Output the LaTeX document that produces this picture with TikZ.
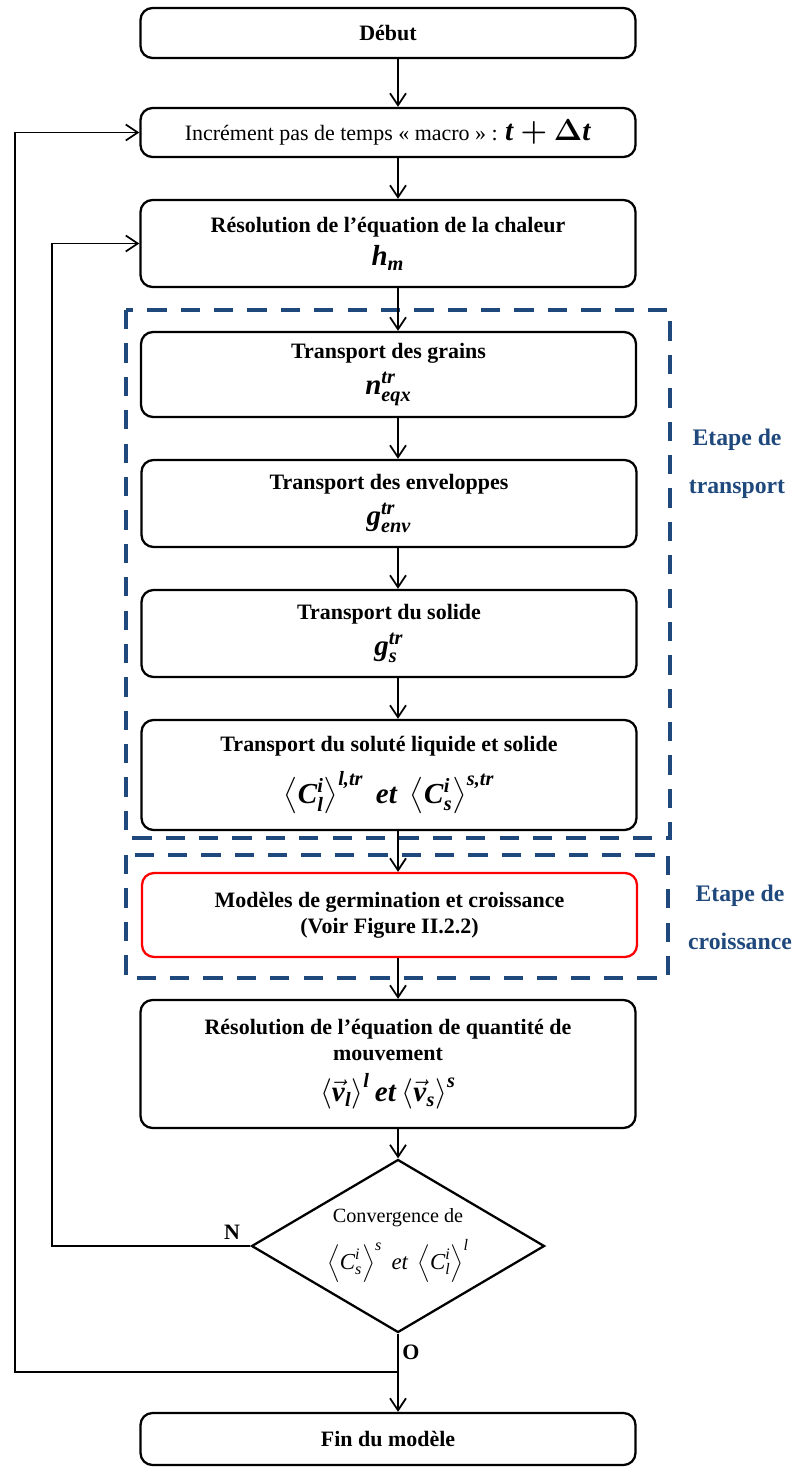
\documentclass[tikz,border=0pt]{standalone}
\usepackage{amsmath}
\usepackage{fontspec}
\setmainfont{Liberation Serif}
\usetikzlibrary{arrows.meta,shapes.geometric}

\definecolor{bleuetape}{RGB}{31,73,125}
\newcommand{\mgi}[1]{\textbf{\textit{#1}}}
\newcommand{\mii}[1]{\textit{#1}}
\newcommand{\grand}{\fontsize{16.5}{18}\selectfont}

\tikzset{
    boite/.style={draw, rounded corners=0.24cm, line width=1.3pt, minimum width=9.9cm,
        align=center, font=\bfseries\fontsize{12.5}{15}\selectfont},
    fleche/.style={-{Straight Barb[length=2.4mm,width=3.2mm]}, line width=1pt},
    etape/.style={draw=bleuetape, line width=2.2pt, dash pattern=on 11pt off 8pt},
    titreetape/.style={text=bleuetape, align=center, font=\bfseries\fontsize{13.5}{27}\selectfont},
    conv/.style={diamond, draw, line width=1.3pt, aspect=1.7, minimum width=5.86cm,
        minimum height=3.46cm, inner sep=0pt, align=center, font=\fontsize{11.5}{13}\selectfont}
}

\begin{document}
\begin{tikzpicture}

\useasboundingbox (0,0) rectangle (15.9,-29.34);

% axe vertical des fleches
\coordinate (axe) at (7.96,0);
\coordinate (bordA) at (0.3,0);
\coordinate (bordB) at (1.04,0);

% Boites du schema
\node[boite, minimum height=1.0cm] (debut) at (7.76,-0.66) {Début};
\node[boite, minimum height=0.98cm, font=\fontsize{12.5}{15}\selectfont] (incr) at (7.76,-2.65)
    {Incrément pas de temps « macro » : {\grand$\mgi{t}\boldsymbol{+}\boldsymbol{\Delta}\mgi{t}$}};
\node[boite, minimum height=1.74cm] (chaleur) at (7.76,-4.87)
    {Résolution de l’équation de la chaleur\\[4pt] {\grand$\mgi{h}_{\mgi{m}}$}};

% Etape de transport
\draw[etape] (2.52,-6.2) rectangle (13.4,-16.76);
\node[titreetape] (ttransport) at (14.74,-9.28) {Etape de\\transport};

\node[boite, minimum height=1.7cm] (grains) at (7.77,-7.49)
    {Transport des grains\\[4pt] {\grand$\mgi{n}^{\mgi{tr}}_{\mgi{eqx}}$}};
\node[boite, minimum height=1.74cm] (env) at (7.78,-10.07)
    {Transport des enveloppes\\[4pt] {\grand$\mgi{g}^{\mgi{tr}}_{\mgi{env}}$}};
\node[boite, minimum height=1.74cm] (solide) at (7.78,-12.67)
    {Transport du solide\\[4pt] {\grand$\mgi{g}^{\mgi{tr}}_{\mgi{s}}$}};
\node[boite, minimum height=2.2cm] (solute) at (7.78,-15.5)
    {Transport du soluté liquide et solide\\[8pt] {\grand$\left\langle \mgi{C}^{\mii{i}}_{\mgi{l}} \right\rangle^{\mgi{l,tr}}\ \mgi{et}\ \left\langle \mgi{C}^{\mii{i}}_{\mgi{s}} \right\rangle^{\mgi{s,tr}}$}};

% Etape de croissance
\draw[etape] (2.52,-17.1) rectangle (13.36,-19.56);
\node[titreetape] (tcroissance) at (14.8,-18.35) {Etape de\\croissance};

\node[boite, draw=red, minimum height=1.68cm] (modeles) at (7.79,-18.3)
    {Modèles de germination et croissance\\(Voir Figure II.2.2)};

\node[boite, minimum height=2.56cm] (quantite) at (7.76,-21.28)
    {Résolution de l’équation de quantité de\\mouvement\\[6pt] {\grand$\left\langle \vec{\mgi{v}}_{\mgi{l}} \right\rangle^{\mgi{l}} \mgi{et} \left\langle \vec{\mgi{v}}_{\mgi{s}} \right\rangle^{\mgi{s}}$}};

\node[conv] (test) at (7.96,-24.92)
    {Convergence de\\[6pt] {\fontsize{13}{15}\selectfont$\left\langle \mii{C}^{\mii{i}}_{\mii{s}} \right\rangle^{\mii{s}}\ \mii{et}\ \left\langle \mii{C}^{\mii{i}}_{\mii{l}} \right\rangle^{\mii{l}}$}};

\node[boite, minimum height=1.04cm] (fin) at (7.76,-28.78) {Fin du modèle};

% Fleches principales
\draw[fleche] (debut.south -| axe) -- (incr.north -| axe);
\draw[fleche] (incr.south -| axe) -- (chaleur.north -| axe);
\draw[fleche] (chaleur.south -| axe) -- (grains.north -| axe);
\draw[fleche] (grains.south -| axe) -- (env.north -| axe);
\draw[fleche] (env.south -| axe) -- (solide.north -| axe);
\draw[fleche] (solide.south -| axe) -- (solute.north -| axe);
\draw[fleche] (solute.south -| axe) -- (modeles.north -| axe);
\draw[fleche] (modeles.south -| axe) -- (quantite.north -| axe);
\draw[fleche] (quantite.south -| axe) -- (test.north);
\draw[fleche] (test.south) -- (fin.north -| axe);

% Boucles de retour
\coordinate (oui) at (7.96,-27.44);
\draw[fleche] (test.west) -- (test.west -| bordB) |- (chaleur.west);
\draw[fleche] (oui) -- (oui -| bordA) |- (incr.west);

\node[font=\bfseries\fontsize{12.5}{14}\selectfont] (non) at (4.64,-24.64) {N};
\node[font=\bfseries\fontsize{12.5}{14}\selectfont] (o) at (8.22,-27.04) {O};

\end{tikzpicture}
\end{document}
